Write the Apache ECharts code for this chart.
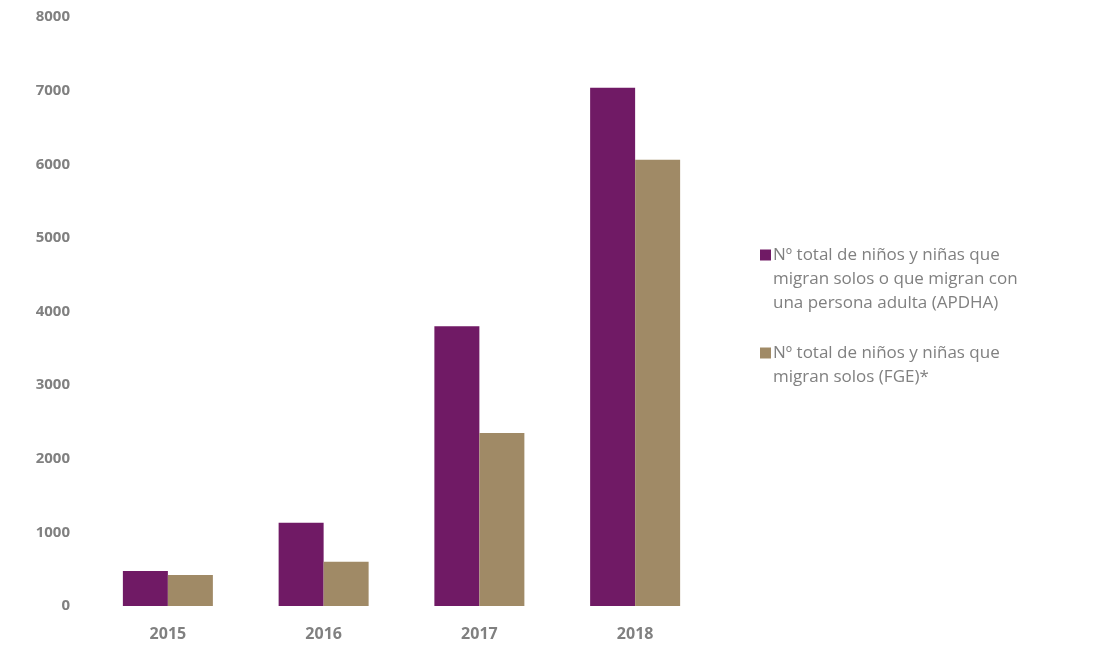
<!DOCTYPE html>
<html><head><meta charset="utf-8">
<script src="https://cdn.jsdelivr.net/npm/echarts@6/dist/echarts.min.js"></script>
<style>html,body{margin:0;padding:0;background:#fff;}#c{width:1108px;height:652px;}</style>
</head><body><div id="c"></div>
<script>
const categories = ['2015','2016','2017','2018'];
const apdha = [475, 1130, 3800, 7040];
const fge = [420, 600, 2350, 6060];
const seriesNames = [
  'Nº total de niños y niñas que\nmigran solos o que migran con\nuna persona adulta (APDHA)',
  'Nº total de niños y niñas que\nmigran solos (FGE)*'
];
const chart = echarts.init(document.getElementById('c'));
chart.setOption({
  backgroundColor: '#fff',
  animation: false,
  grid: {left: 90, right: 395, top: 17, bottom: 46, containLabel: false},
  legend: {
    orient: 'vertical', left: 755, top: 190, itemGap: 2,
    icon: 'rect', itemWidth: 11, itemHeight: 11,
    textStyle: {fontFamily: 'Open Sans', fontSize: 17, color: '#808080', lineHeight: 24, padding: [0, 0, 0, -3]},
    formatter: name => {
      const n = name.split('\n').length;
      return '\n'.repeat(n - 1) + name;
    },
    data: seriesNames
  },
  xAxis: {
    type: 'category', data: categories,
    axisLine: {show: false}, axisTick: {show: false},
    axisLabel: {fontFamily: 'Open Sans', fontWeight: 'bold', fontSize: 16, color: '#808080', margin: 20}
  },
  yAxis: {
    type: 'value', min: 0, max: 8000, interval: 1000,
    splitLine: {show: false}, axisLine: {show: false}, axisTick: {show: false},
    axisLabel: {fontFamily: 'Open Sans', fontWeight: 'bold', fontSize: 15, color: '#808080', margin: 20, formatter: v => String(v)}
  },
  series: [
    {name: seriesNames[0], type: 'bar', data: apdha, barWidth: 45, barGap: '0%', itemStyle: {color: '#701a65'}},
    {name: seriesNames[1], type: 'bar', data: fge, barWidth: 45, barGap: '0%', itemStyle: {color: '#a08a66'}}
  ]
});
</script></body></html>
